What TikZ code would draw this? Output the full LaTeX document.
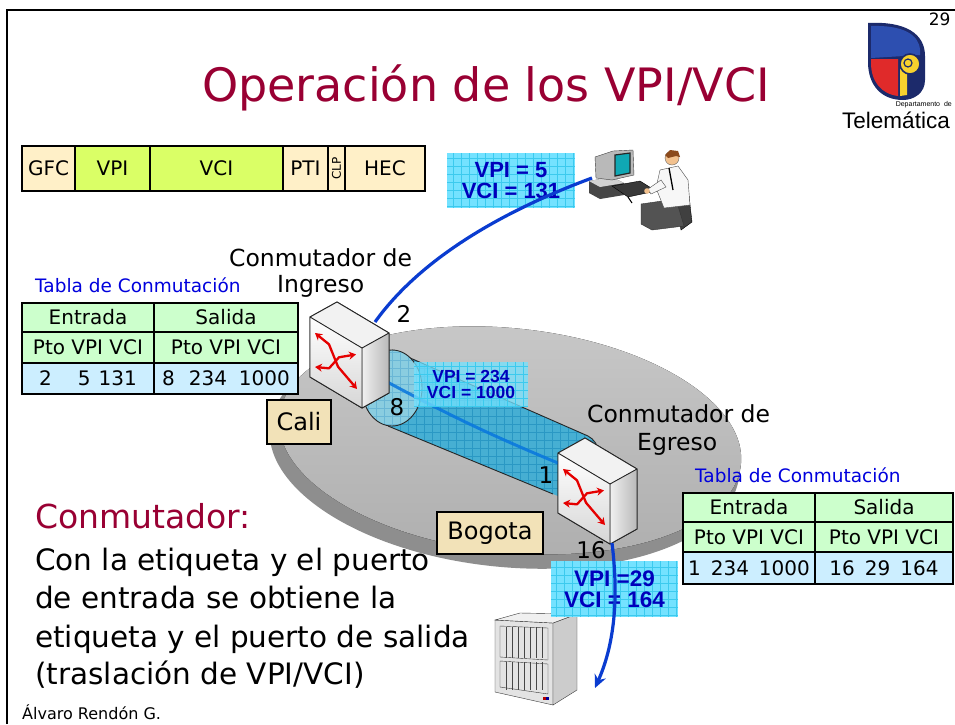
\documentclass[tikz,border=0pt]{standalone}
\usepackage{fontspec}
\setmainfont{DejaVu Sans}
\newfontfamily\arialfont{Liberation Sans}
\usetikzlibrary{arrows.meta,calc,shapes.geometric}

\definecolor{titlered}{HTML}{990033}
\definecolor{tancell}{HTML}{FFF0C8}
\definecolor{limecell}{HTML}{DAFF66}
\definecolor{tgreen}{HTML}{CCFFCC}
\definecolor{tblue}{HTML}{CCEEFF}
\definecolor{labelbox}{HTML}{F2E2B8}
\definecolor{tabblue}{HTML}{0000DD}
\definecolor{vpiblue}{HTML}{0000BB}
\definecolor{cyanbox}{HTML}{74E2FF}
\definecolor{cyangrid}{HTML}{3CCAEE}
\definecolor{linkblue}{HTML}{0A3CD0}
\definecolor{tubecyan}{HTML}{3AAED6}
\definecolor{tubegrid}{HTML}{2A98C4}
\definecolor{capcyan}{HTML}{8ACDE0}
\definecolor{discrim}{HTML}{8E8E8E}
\definecolor{disctop}{HTML}{C8C8C8}
\definecolor{discbottom}{HTML}{AEAEAE}
\definecolor{screenteal}{HTML}{10A8B4}
\definecolor{skin}{HTML}{F2C18E}
\definecolor{hairbrown}{HTML}{8B4A1C}
\definecolor{logoblue}{HTML}{2D4FB0}
\definecolor{logonavy}{HTML}{1C2A6B}
\definecolor{logored}{HTML}{E02A2A}
\definecolor{logoyellow}{HTML}{F7D12E}

\tikzset{
  hcell/.style={draw=black, line width=2.2pt, anchor=north west, inner sep=0pt,
    outer sep=0pt, minimum height=45pt, font=\fontsize{20}{20}\selectfont},
  tcell/.style={draw=black, line width=1.6pt, anchor=north west, inner sep=0pt,
    outer sep=0pt, font=\fontsize{20}{20}\selectfont},
  placebox/.style={draw=black, line width=1.5pt, fill=labelbox, inner sep=0pt,
    font=\fontsize{24}{24}\selectfont},
  vpibox/.style={fill=cyanbox, inner sep=0pt, align=center, text=vpiblue,
    path picture={\draw[cyangrid, line width=0.6pt, step=8pt]
      (path picture bounding box.south west) grid (path picture bounding box.north east);}},
  vpifont/.style={font=\arialfont\bfseries\fontsize{#1}{#1}\selectfont},
  link/.style={draw=linkblue, line width=3.2pt},
  tubeline/.style={draw=linkblue!70!cyan, line width=3pt, opacity=0.85},
  numlab/.style={anchor=base, font=\fontsize{23}{23}\selectfont},
  bodyline/.style={anchor=base west, font=\fontsize{29.5}{29.5}\selectfont, inner sep=0pt},
  namelab/.style={anchor=base west, font=\fontsize{23.5}{23.5}\selectfont, inner sep=0pt},
  redx/.style={draw=red!90!black, line width=2.3pt, line join=round,
    {Stealth[length=7pt,width=8pt]}-{Stealth[length=7pt,width=8pt]}},
  pics/switchbox/.style={code={
    \fill[gray!10] (0,0) -- (27,-15) -- (79,16) -- (52,31) -- cycle;
    \fill[left color=gray!12, right color=gray!55] (52,31) -- (79,16) -- (79,76) -- (52,91) -- cycle;
    \fill[top color=white, bottom color=gray!32] (0,0) -- (52,31) -- (52,91) -- (0,60) -- cycle;
    \draw[black!85, line width=0.9pt, line join=round]
      (0,0) -- (27,-15) -- (79,16) -- (79,76) -- (52,91) -- (0,60) -- cycle
      (0,0) -- (52,31) -- (79,16) (52,31) -- (52,91);
    \begin{scope}[yslant=-0.596]
      \draw[redx] (5,13) -- (19,16) -- (28,33) -- (47,44);
      \draw[redx] (5,47) -- (19,40) -- (29,23) -- (46,10);
    \end{scope}
    \coordinate (-top) at (65,5);
    \coordinate (-back) at (68,60);
    \coordinate (-front) at (12,15);
    \coordinate (-bottom) at (54,90);
  }}
}

\begin{document}
\begin{tikzpicture}[x=1pt,y=-1pt]
\useasboundingbox (0,0) rectangle (955,724);
\fill[white] (0,0) rectangle (955,724);

% slide frame
\draw[black, line width=2.6pt] (7,724) -- (7,10) -- (955,10);
\node[anchor=base east, font=\fontsize{17}{17}\selectfont] (pagenum) at (954,25) {29};

% department logo
\fill[logonavy] (868,23) .. controls (906,21) and (925,34) .. (925,56) -- (925,80)
  .. controls (925,93) and (914,100) .. (903,100) .. controls (882,100) and (868,86) .. (868,62) -- cycle;
\fill[logoblue] (871,26) .. controls (902,25) and (919,34) .. (920,50) -- (920,55) -- (871,58) -- cycle;
\fill[logored] (871,59) -- (898,59) -- (898,96) .. controls (881,94) and (871,81) .. (871,63) -- cycle;
\fill[logoyellow] (900,62) -- (907,62) -- (907,95) -- (900,96) -- cycle;
\filldraw[fill=logoyellow, draw=logonavy, line width=1.6pt] (910,64) circle (10);
\draw[logonavy, line width=1.2pt] (908,63) circle (4);
\node[anchor=base east, font=\arialfont\fontsize{7}{7}\selectfont, inner sep=0pt] (dept) at (952,106) {Departamento\ \ de};
\node[anchor=base west, font=\arialfont\fontsize{22.5}{22.5}\selectfont, inner sep=0pt] (telem) at (842,128) {Telemática};

% title
\node[anchor=base, font=\fontsize{46}{46}\selectfont, text=titlered] (title) at (486,101) {Operación de los VPI/VCI};

% ATM cell header
\node[hcell, fill=tancell, minimum width=53pt] (gfc) at (22,146) {GFC};
\node[hcell, fill=limecell, minimum width=75pt] (vpi) at (75,146) {VPI};
\node[hcell, fill=limecell, minimum width=133pt] (vci) at (150,146) {VCI};
\node[hcell, fill=tancell, minimum width=45pt] (pti) at (283,146) {PTI};
\node[hcell, fill=tancell, minimum width=17pt, font=\fontsize{12}{12}\selectfont] (clp) at (328,146) {\rotatebox{90}{CLP}};
\node[hcell, fill=tancell, minimum width=80pt] (hec) at (345,146) {HEC};

% network disc
\fill[discrim, rotate around={-6:(507,447)}] (505,451) ellipse [x radius=236, y radius=116];
\fill[top color=disctop, bottom color=discbottom, rotate around={-6:(507,442)}] (510,440) ellipse [x radius=232, y radius=112];

% virtual path tube
\fill[tubecyan, fill opacity=0.9] (392,350) -- (588,436) .. controls (600,442) and (604,462) .. (595,476)
  -- (575,503) -- (553,494) -- (388,426) -- cycle;
\begin{scope}
  \clip (392,350) -- (588,436) .. controls (600,442) and (604,462) .. (595,476)
    -- (575,503) -- (553,494) -- (388,426) -- cycle;
  \draw[tubegrid, line width=0.6pt, step=8pt] (380,340) grid (610,510);
\end{scope}
\draw[black!85, line width=0.9pt] (392,350) -- (588,436) .. controls (600,442) and (604,462) .. (595,476);
\draw[black!85, line width=0.9pt] (388,426) -- (553,494);
\begin{scope}
  \clip (392,388) ellipse [x radius=30, y radius=38];
  \fill[capcyan] (350,340) rectangle (430,440);
  \draw[tubegrid!70, line width=0.5pt, step=8pt] (350,340) grid (430,440);
\end{scope}
\draw[black!85, line width=0.9pt] (392,388) ellipse [x radius=30, y radius=38];

% switches
\pic (sw1) at (310,317) {switchbox};
\pic (sw2) at (558,453) {switchbox};

% path through the tube
\draw[tubeline] (sw1-back) to[bend right=3] (sw2-front);
\pic at (558,453) {switchbox};

\node[vpibox, fill opacity=0.75, text opacity=1, minimum width=114pt, minimum height=45pt,
  vpifont=17.5] (lab2) at (471,384.5) {VPI = 234\\[-1pt]VCI = 1000};

% ingress switch drawn again over the tube label
\pic at (310,317) {switchbox};

% port numbers
\node[numlab] (p2) at (404,322) {2};
\node[numlab] (p8) at (397,415) {8};
\node[numlab] (p1) at (546,483) {1};
\node[numlab] (p16) at (591,558) {16};

% place labels
\node[placebox, minimum width=64pt, minimum height=44pt] (cali) at (299,422) {Cali};
\node[placebox, minimum width=106pt, minimum height=42pt] (bogota) at (490,533) {Bogota};

% user terminal
\coordinate (pc) at (592,178);
\fill[gray!55!black] (589,181) -- (612,177) -- (624,183) -- (624,195) -- (600,199) -- (589,193) -- cycle;
\fill[gray!35] (589,181) -- (612,177) -- (624,183) -- (600,187) -- cycle;
\filldraw[fill=gray!55, draw=black!75] (595,157) -- (613,151) -- (633,150) -- (634,175) -- (612,180) -- (596,178) -- cycle;
\filldraw[fill=screenteal, draw=black!85, line width=1.2pt] (615,155) -- (630,153) -- (630,173) -- (615,176) -- cycle;
\filldraw[fill=gray!45!black, draw=black] (612,186) -- (640,181) -- (656,191) -- (628,197) -- cycle;
\draw[black, line width=1pt] (628,197) -- (632,203);
\filldraw[fill=black!75, draw=black] (676,202) -- (689,196) -- (692,222) -- (681,230) -- cycle;
\filldraw[fill=gray!65!black, draw=black!80] (641,204) -- (676,199) -- (684,226) -- (652,230) -- (641,224) -- cycle;
\filldraw[fill=gray!6, draw=black!70] (660,170) -- (678,166) -- (688,180) -- (690,205) -- (664,208) -- (656,188) -- cycle;
\filldraw[fill=gray!6, draw=black!70] (661,180) -- (648,189) -- (651,194) -- (666,187) -- cycle;
\fill[skin] (647,191) circle (2.8);
\draw[black, line width=1.3pt] (669,168) -- (673,190);
\filldraw[fill=skin, draw=black!60] (672,158) circle (7);
\fill[hairbrown] (665,155) -- (670,150) -- (678,151) -- (680,157) -- (676,156) -- (668,158) -- cycle;

% server rack
\coordinate (rack) at (595,688);
\filldraw[fill=gray!22, draw=gray!45!black] (495,620) -- (553,623) -- (553,705) -- (495,692) -- cycle;
\filldraw[fill=gray!40, draw=gray!45!black] (553,623) -- (577,614) -- (577,690) -- (553,705) -- cycle;
\filldraw[fill=gray!12, draw=gray!45!black] (495,620) -- (520,613) -- (577,614) -- (553,623) -- cycle;
\draw[gray!45!black] (500,626) -- (548,628) -- (548,660) -- (500,657) -- cycle;
\draw[gray!45!black] (500,661) -- (548,664) -- (548,694) -- (500,687) -- cycle;
\foreach \xx in {506,512,518,524,530,536,542}{
  \draw[gray!55!black, line width=0.5pt] (\xx,627) -- (\xx,658);
  \draw[gray!55!black, line width=0.5pt] (\xx,662) -- (\xx,690);
}
\fill[red!70!black] (543,697) rectangle (546,700);
\fill[blue!60!black] (546,697) rectangle (549,700);

% label boxes on the links
\node[vpibox, minimum width=128pt, minimum height=55pt, vpifont=22] (lab1) at (511,180.5) {VPI = 5\\[-1pt]VCI = 131};
\node[vpibox, minimum width=127pt, minimum height=56pt, vpifont=22.5] (lab3) at (614.5,589) {VPI =29\\[-1pt]VCI = 164};

% access links
\draw[link] (sw1-top) .. controls (418,262) and (495,214) .. (pc);
\draw[link, -{Stealth[length=13pt,width=12pt]}] (sw2-bottom) .. controls (619,600) and (614,645) .. (rack);

% switch names
\node[namelab] (ingA) at (229,266) {Conmutador de};
\node[namelab] (ingB) at (277,292) {Ingreso};
\node[namelab] (egA) at (587,422) {Conmutador de};
\node[namelab] (egB) at (637,450) {Egreso};

% ingress switching table
\node[anchor=base west, font=\fontsize{18.5}{18.5}\selectfont, text=tabblue, inner sep=0pt] (ltabt) at (35,292) {Tabla de Conmutación};
\node[tcell, fill=tgreen, minimum width=132pt, minimum height=29pt] (lte) at (22,303) {Entrada};
\node[tcell, fill=tgreen, minimum width=144pt, minimum height=29pt] (lts) at (154,303) {Salida};
\node[tcell, fill=tgreen, minimum width=132pt, minimum height=31pt] (lth1) at (22,332) {Pto VPI VCI};
\node[tcell, fill=tgreen, minimum width=144pt, minimum height=31pt] (lth2) at (154,332) {Pto VPI VCI};
\node[tcell, fill=tblue, minimum width=132pt, minimum height=31pt] (ltv1) at (22,363) {2\hspace{26pt}5\hspace{8pt}131};
\node[tcell, fill=tblue, minimum width=144pt, minimum height=31pt] (ltv2) at (154,363) {8\hspace{14pt}234\hspace{12pt}1000};

% egress switching table
\node[anchor=base west, font=\fontsize{18.5}{18.5}\selectfont, text=tabblue, inner sep=0pt] (rtabt) at (695,482) {Tabla de Conmutación};
\node[tcell, fill=tgreen, minimum width=132pt, minimum height=29pt] (rte) at (683,493) {Entrada};
\node[tcell, fill=tgreen, minimum width=138pt, minimum height=29pt] (rts) at (815,493) {Salida};
\node[tcell, fill=tgreen, minimum width=132pt, minimum height=30pt] (rth1) at (683,522) {Pto VPI VCI};
\node[tcell, fill=tgreen, minimum width=138pt, minimum height=30pt] (rth2) at (815,522) {Pto VPI VCI};
\node[tcell, fill=tblue, minimum width=132pt, minimum height=32pt] (rtv1) at (683,552) {1\hspace{10pt}234\hspace{10pt}1000};
\node[tcell, fill=tblue, minimum width=138pt, minimum height=32pt] (rtv2) at (815,552) {16\hspace{10pt}29\hspace{10pt}164};

% explanation
\node[anchor=base west, font=\fontsize{33}{33}\selectfont, text=titlered, inner sep=0pt] (heading) at (35,528) {Conmutador:};
\node[bodyline] (body1) at (35,570) {Con la etiqueta y el puerto};
\node[bodyline] (body2) at (35,608) {de entrada se obtiene la};
\node[bodyline] (body3) at (35,647) {etiqueta y el puerto de salida};
\node[bodyline] (body4) at (35,684) {(traslación de VPI/VCI)};

\node[anchor=base west, font=\fontsize{16}{16}\selectfont, inner sep=0pt] (author) at (22,719) {Álvaro Rendón G.};
\end{tikzpicture}
\end{document}
